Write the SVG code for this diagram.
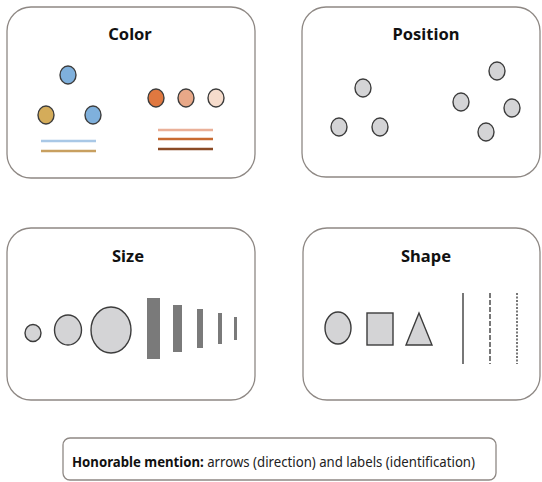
<svg xmlns="http://www.w3.org/2000/svg" width="542" height="482" viewBox="0 0 542 482">
<style>
.box{fill:#fff;stroke:#8e8884;stroke-width:1.3}
.title{font-family:"Noto Sans","Liberation Sans",sans-serif;font-weight:bold;font-size:16.5px;fill:#111;text-anchor:middle}
.dot{stroke:#3c3c3c;stroke-width:1.4}
.g{fill:#d4d4d6}
.bar{fill:#7a7a7a}
.vl{stroke:#777;stroke-width:2}
.cap{font-family:"Noto Sans","Liberation Sans",sans-serif;font-size:13.5px;fill:#222}
</style>
<rect width="542" height="482" fill="#fff"/>
<g id="color">
<rect class="box" x="7" y="7" width="248" height="171" rx="24"/>
<text class="title" x="130" y="40">Color</text>
<ellipse class="dot" cx="68" cy="75" rx="8" ry="9" fill="#7fb0dc"/>
<ellipse class="dot" cx="46" cy="115" rx="8" ry="9" fill="#d4ac5a"/>
<ellipse class="dot" cx="93" cy="115" rx="8" ry="9" fill="#7fb0dc"/>
<line x1="41" y1="141" x2="96" y2="141" stroke="#a9c8e6" stroke-width="2.5"/>
<line x1="41" y1="151" x2="96" y2="151" stroke="#c8a060" stroke-width="2.5"/>
<ellipse class="dot" cx="156" cy="98" rx="8" ry="9" fill="#e07840"/>
<ellipse class="dot" cx="186" cy="98" rx="8" ry="9" fill="#e8a888"/>
<ellipse class="dot" cx="216" cy="98" rx="8" ry="9" fill="#f6dccc"/>
<line x1="158" y1="130" x2="213" y2="130" stroke="#eab098" stroke-width="2.5"/>
<line x1="158" y1="139" x2="213" y2="139" stroke="#c86a30" stroke-width="2.5"/>
<line x1="158" y1="149" x2="213" y2="149" stroke="#8a4a25" stroke-width="2.5"/>
</g>
<g id="position">
<rect class="box" x="302" y="7" width="238" height="170" rx="24"/>
<text class="title" x="426" y="40">Position</text>
<ellipse class="dot g" cx="363" cy="88" rx="8" ry="9"/>
<ellipse class="dot g" cx="339" cy="127" rx="8" ry="9"/>
<ellipse class="dot g" cx="380" cy="127" rx="8" ry="9"/>
<ellipse class="dot g" cx="461" cy="102" rx="8" ry="9"/>
<ellipse class="dot g" cx="497" cy="71" rx="8" ry="9"/>
<ellipse class="dot g" cx="512" cy="108" rx="8" ry="9"/>
<ellipse class="dot g" cx="486" cy="132" rx="8" ry="9"/>
</g>
<g id="size">
<rect class="box" x="7" y="228" width="248" height="172" rx="24"/>
<text class="title" x="128" y="262">Size</text>
<ellipse class="dot g" cx="33" cy="333" rx="8" ry="8.5"/>
<ellipse class="dot g" cx="68" cy="330" rx="13.5" ry="15"/>
<ellipse class="dot g" cx="111" cy="330" rx="20" ry="23"/>
<rect class="bar" x="147" y="298" width="13" height="61"/>
<rect class="bar" x="173" y="305" width="9" height="47"/>
<rect class="bar" x="197" y="309" width="6" height="39"/>
<rect class="bar" x="218" y="313" width="4" height="31"/>
<rect class="bar" x="234" y="317" width="3" height="23"/>
</g>
<g id="shape">
<rect class="box" x="303" y="228" width="237" height="172" rx="24"/>
<text class="title" x="426" y="262">Shape</text>
<ellipse class="dot g" cx="338" cy="328" rx="13" ry="16"/>
<rect class="dot g" x="367" y="313" width="26" height="32"/>
<polygon class="dot g" points="419,313 406,345 432,345"/>
<line class="vl" x1="463" y1="293" x2="463" y2="364"/>
<line class="vl" x1="490" y1="293" x2="490" y2="364" stroke-dasharray="5,2"/>
<line class="vl" x1="517" y1="293" x2="517" y2="364" stroke-dasharray="2,1.5"/>
</g>
<g id="mention">
<rect class="box" x="63" y="438" width="433" height="42" rx="7"/>
<text class="cap" x="72" y="467" textLength="403" lengthAdjust="spacingAndGlyphs"><tspan font-weight="bold" fill="#111">Honorable mention:</tspan> arrows (direction) and labels (identification)</text>
</g>
</svg>
